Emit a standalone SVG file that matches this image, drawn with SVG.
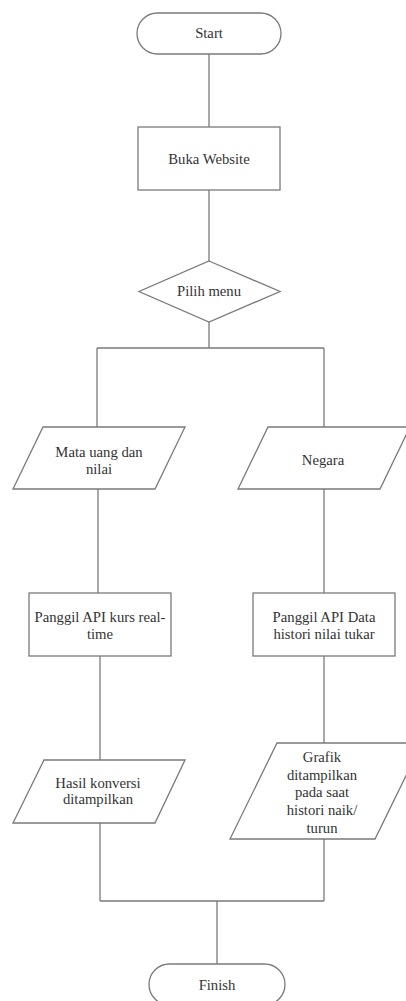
<svg xmlns="http://www.w3.org/2000/svg" width="406" height="1001" viewBox="0 0 406 1001" font-family="'Liberation Serif', 'DejaVu Serif', serif">
<style>
.s{fill:#fff;stroke:#7a7a7a;stroke-width:1.3}
.c{fill:none;stroke:#7a7a7a;stroke-width:1.3}
text{font-family:'Liberation Serif','DejaVu Serif',serif;font-size:14.7px;fill:#333;text-anchor:middle}
</style>
<rect width="406" height="1001" fill="#fff"/>
<g id="connectors">
<path class="c" d="M209 54V127M209 190V261M209 322V348M97 348H324M97 348V427M324 348V427"/>
<path class="c" d="M98 489V593M324 489V593M100 656V760M324 656V743M100 823V901M324 839V901M100 901H324M217 901V964"/>
</g>
<g id="start"><rect class="s" x="137" y="13" width="144" height="41" rx="20.5"/><text x="209" y="38">Start</text></g>
<g id="buka"><rect class="s" x="138" y="127" width="142" height="63"/><text x="209" y="164">Buka Website</text></g>
<g id="pilih"><polygon class="s" points="209,261 280,291.5 209,322 139,291.5"/><text x="209" y="296">Pilih menu</text></g>
<g id="mata"><polygon class="s" points="43,427 185,427 155,489 13,489"/><text x="99" y="457">Mata uang dan</text><text x="99" y="474">nilai</text></g>
<g id="negara"><polygon class="s" points="268,427 410,427 380,489 238,489"/><text x="323" y="465">Negara</text></g>
<g id="api1"><rect class="s" x="29" y="593" width="142" height="63"/><text x="100" y="622">Panggil API kurs real-</text><text x="100" y="639">time</text></g>
<g id="api2"><rect class="s" x="253" y="593" width="142" height="63"/><text x="324" y="622">Panggil API Data</text><text x="324" y="639">histori nilai tukar</text></g>
<g id="hasil"><polygon class="s" points="44,760 185,760 155,823 13,823"/><text x="98" y="788">Hasil konversi</text><text x="98" y="804">ditampilkan</text></g>
<g id="grafik"><polygon class="s" points="277,743 422,743 375,839 230,839"/><text x="322" y="762">Grafik</text><text x="322" y="780">ditampilkan</text><text x="322" y="797">pada saat</text><text x="322" y="815">histori naik/</text><text x="322" y="833">turun</text></g>
<g id="finish"><rect class="s" x="149" y="964" width="136" height="41" rx="20.5"/><text x="217" y="990">Finish</text></g>
</svg>
